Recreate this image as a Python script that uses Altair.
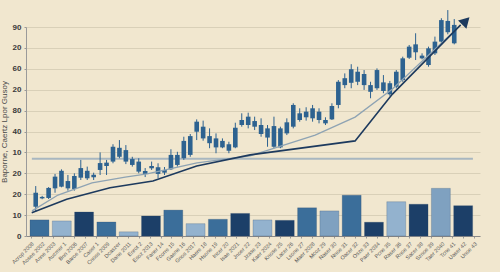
import altair as alt
import pandas as pd

# ---------------- data ----------------
y_tick_values = [0, 10, 20, 30, 40, 50, 60, 70, 80, 90, 100]
y_tick_labels = ["0", "10", "20", "20", "10", "40", "80", "20", "60", "20", "90"]
y_title = "Вароrne, Caertz Lpor Gusoy"

candle_low = [11.6, 17.6, 17.7, 20.7, 23.3, 21.7, 21.7, 26.8, 26.8, 26.8,
              29.2, 29.2, 34.8, 37.2, 34.4, 33.2, 30.0, 28.2, 31.6, 27.6,
              29.2, 31.6, 33.2, 36.4, 37.9, 45.9, 45.6, 42.0, 39.6, 42.0,
              39.6, 42.0, 52.3, 51.5, 50.7, 47.5, 42.7, 42.0, 42.0, 48.3,
              51.5, 54.7, 55.2, 54.7, 53.9, 53.1, 55.5, 61.1, 70.7, 70.7,
              72.2, 69.9, 65.9, 69.9, 68.3, 67.1, 70.7, 73.8, 84.7, 84.2,
              84.5, 81.0, 86.6, 92.2, 96.5, 91.7]
candle_high = [23.9, 19.2, 23.4, 29.7, 31.9, 29.2, 30.0, 36.4, 33.2, 30.3,
               40.0, 36.4, 43.9, 45.9, 43.5, 37.9, 37.2, 32.5, 35.6, 34.8,
               33.0, 41.5, 40.3, 47.5, 48.8, 55.8, 55.2, 51.5, 49.1, 46.7,
               45.1, 54.2, 58.7, 59.0, 57.1, 56.3, 53.1, 57.1, 52.3, 56.3,
               63.5, 61.1, 61.6, 62.7, 61.1, 56.8, 63.5, 74.6, 77.8, 82.2,
               81.0, 79.4, 73.8, 80.2, 77.0, 74.2, 79.4, 85.8, 91.4, 97.0,
               87.4, 90.6, 95.4, 104.2, 108.1, 103.8]
candle_open = [14.0, 18.0, 18.2, 22.8, 23.6, 22.8, 22.5, 27.9, 27.6, 28.1,
               31.6, 33.5, 35.6, 37.9, 35.6, 34.0, 30.8, 29.7, 32.4, 29.7,
               30.3, 31.9, 34.0, 37.2, 38.8, 49.9, 46.7, 44.4, 42.4, 42.4,
               40.8, 42.4, 53.1, 53.1, 52.3, 48.8, 47.1, 42.7, 42.4, 49.1,
               52.3, 55.5, 56.8, 56.3, 55.5, 53.9, 55.8, 62.7, 72.2, 73.3,
               73.8, 72.2, 69.0, 70.7, 69.4, 67.8, 71.4, 74.6, 85.3, 87.9,
               85.0, 81.8, 87.4, 93.0, 97.5, 92.2]
candle_close = [20.7, 18.7, 23.0, 28.4, 31.2, 26.3, 28.7, 32.5, 31.2, 29.3,
                34.9, 35.1, 42.7, 42.2, 41.1, 36.8, 35.6, 31.1, 33.5, 32.9,
                31.6, 38.8, 38.8, 45.5, 47.8, 54.7, 52.3, 47.8, 46.7, 45.5,
                43.9, 51.8, 55.5, 57.1, 55.0, 53.1, 51.5, 52.6, 51.5, 54.4,
                62.7, 58.7, 59.5, 61.1, 59.5, 55.5, 62.2, 73.8, 75.5, 79.8,
                78.6, 77.5, 72.2, 79.4, 73.5, 73.1, 78.6, 85.0, 90.6, 91.7,
                86.3, 89.8, 93.0, 103.3, 102.9, 101.0]

bar_values = [7.7, 7.2, 11.5, 6.7, 2.0, 9.6, 12.4, 5.9, 8.0, 10.8,
              7.7, 7.5, 13.5, 12.0, 19.5, 6.6, 16.4, 15.2, 22.8, 14.5]
bar_tones = ["M", "L", "D", "M", "L", "D", "M", "L", "M", "D",
             "L", "D", "M", "LM", "M", "D", "L", "D", "LM", "D"]

trend_dark_x = [-0.62, 4.81, 11.54, 18.2, 25.0, 33.3, 49.6, 55.4, 66.0]
trend_dark_y = [11.1, 17.6, 23.1, 26.3, 33.5, 38.8, 45.5, 67.9, 101.0]
trend_light_x = [-0.57, 3.46, 8.74, 13.9, 17.3, 25.05, 33.3, 43.4, 49.6, 55.4, 64.7]
trend_light_y = [12.0, 19.6, 25.4, 28.2, 29.7, 35.0, 38.3, 48.3, 56.9, 70.3, 97.1]

ref_level = [37]
ref_x_start = [-0.6]
ref_x_end = [67.9]
arrow_x = [66.8]
arrow_y = [102.9]

x_labels = ["Acrop 2008", "Aosee 2002", "Anne 2003", "Aucmer 1", "Bnn 2006",
            "Baroe 2007", "Caser 1", "Cnoss 2009", "Dcaszer", "Dane 2011",
            "Enrot 2", "Esoz 2013", "Faner 14", "Fcorre 15", "Gaene 16",
            "Gnos 2017", "Haere 18", "Hsone 19", "Incer 20", "Isae 2021",
            "Jnoer 22", "Jzase 23", "Kaer 2024", "Knose 25", "Lacer 26",
            "Lsone 27", "Maer 2028", "Mcoz 29", "Naser 30", "Nnoe 31",
            "Oacer 32", "Osze 33", "Paer 2034", "Pcne 35", "Raser 36",
            "Rnoe 37", "Sacer 38", "Sznoe 39", "Taer 2040", "Tcne 41",
            "Uaser 42", "Unoe 43"]

# ---------------- tables ----------------
candles = pd.DataFrame({
    "i": list(range(len(candle_low))),
    "low": candle_low, "high": candle_high,
    "open": candle_open, "close": candle_close,
})
bars = pd.DataFrame({"j": list(range(len(bar_values))), "v": bar_values, "tone": bar_tones})
dark = pd.DataFrame({"x": trend_dark_x, "y": trend_dark_y})
light = pd.DataFrame({"x": trend_light_x, "y": trend_light_y})
ref = pd.DataFrame({"x": ref_x_start, "x2": ref_x_end, "y": ref_level})
arrow = pd.DataFrame({"x": arrow_x, "y": arrow_y})
labs = pd.DataFrame({"lab": x_labels})

# ---------------- scales / axes ----------------
FONT = "Liberation Sans"
xc = alt.Scale(domain=[-1.51, 69.0], nice=False, zero=False)
xb = alt.Scale(domain=[-0.605, 19.755], nice=False, zero=False)
ys = alt.Scale(domain=[0, 100], nice=False, zero=True)

label_arr = "[" + ",".join("'" + s + "'" for s in y_tick_labels) + "]"
yaxis = alt.Axis(
    values=y_tick_values,
    labelExpr=label_arr + "[round(datum.value/10)]",
    title=y_title,
    titleFontSize=8, titleFontWeight="normal", titleColor="#4a4a4a", titleFont=FONT,
    titlePadding=4,
    labelFontSize=8, labelFontWeight="bold", labelColor="#3a3a3a", labelFont=FONT,
    labelPadding=3, tickSize=2, tickColor="#999999",
    domainColor="#9a9a9a", grid=True, gridColor="#d9d0b8", gridWidth=1,
)

def Y(field):
    return alt.Y(field, type="quantitative", scale=ys, axis=yaxis)

CANDLE = "#2d6290"

hline = alt.Chart(ref).mark_rule(color="#a9b7c0", strokeWidth=2).encode(
    x=alt.X("x:Q", scale=xc, axis=None), x2="x2:Q", y=Y("y"))

barlayer = alt.Chart(bars).transform_calculate(
    a="datum.j - 0.425", b="datum.j + 0.425", base="0"
).mark_rect(stroke="#2a4a6c", strokeWidth=0.4, strokeOpacity=0.6).encode(
    x=alt.X("a:Q", scale=xb, axis=None), x2="b:Q",
    y=Y("v"), y2="base:Q",
    color=alt.Color("tone:N", legend=None,
                    scale=alt.Scale(domain=["D", "M", "L", "LM"],
                                    range=["#1c3f68", "#3b6e9a", "#93b2ce", "#7fa1c0"])),
)

wicks = alt.Chart(candles).mark_rule(color=CANDLE, strokeWidth=1).encode(
    x=alt.X("i:Q", scale=xc, axis=None), y=Y("low"), y2="high")
bodies = alt.Chart(candles).mark_rule(color=CANDLE, strokeWidth=4.6, strokeCap="butt").encode(
    x=alt.X("i:Q", scale=xc, axis=None), y=Y("open"), y2="close")

light_line = alt.Chart(light).mark_line(color="#8ea3b3", strokeWidth=1.3).encode(
    x=alt.X("x:Q", scale=xc, axis=None), y=Y("y"))
dark_line = alt.Chart(dark).mark_line(color="#1d3a5e", strokeWidth=1.6).encode(
    x=alt.X("x:Q", scale=xc, axis=None), y=Y("y"))
arrow_head = alt.Chart(arrow).mark_point(
    shape="triangle-up", angle=45, size=140, filled=True, color="#1d3a5e", opacity=1
).encode(x=alt.X("x:Q", scale=xc, axis=None), y=Y("y"))

label_layer = alt.Chart(labs).mark_tick(opacity=0).encode(
    x=alt.X("lab:N", sort=x_labels, scale=alt.Scale(paddingInner=0, paddingOuter=0),
            axis=alt.Axis(title=None, labelAngle=-45, labelFontSize=5.5, labelColor="#555555",
                          labelFont=FONT, labelPadding=3, tickSize=2, tickColor="#999999",
                          domainColor="#8a8a8a", labelOverlap=False, labelLimit=60)),
    y=alt.value(0),
)

chart = alt.layer(
    hline, barlayer, wicks, bodies, light_line, dark_line, arrow_head, label_layer
).resolve_scale(x="independent").properties(
    width=454, height=209,
    autosize=alt.AutoSizeParams(type="none"),
    padding={"left": 26, "top": 27, "right": 20, "bottom": 36},
    background="#f1e7cf",
).configure_view(stroke=None)

chart.save("out.html", embed_options={"renderer": "svg", "actions": False})
